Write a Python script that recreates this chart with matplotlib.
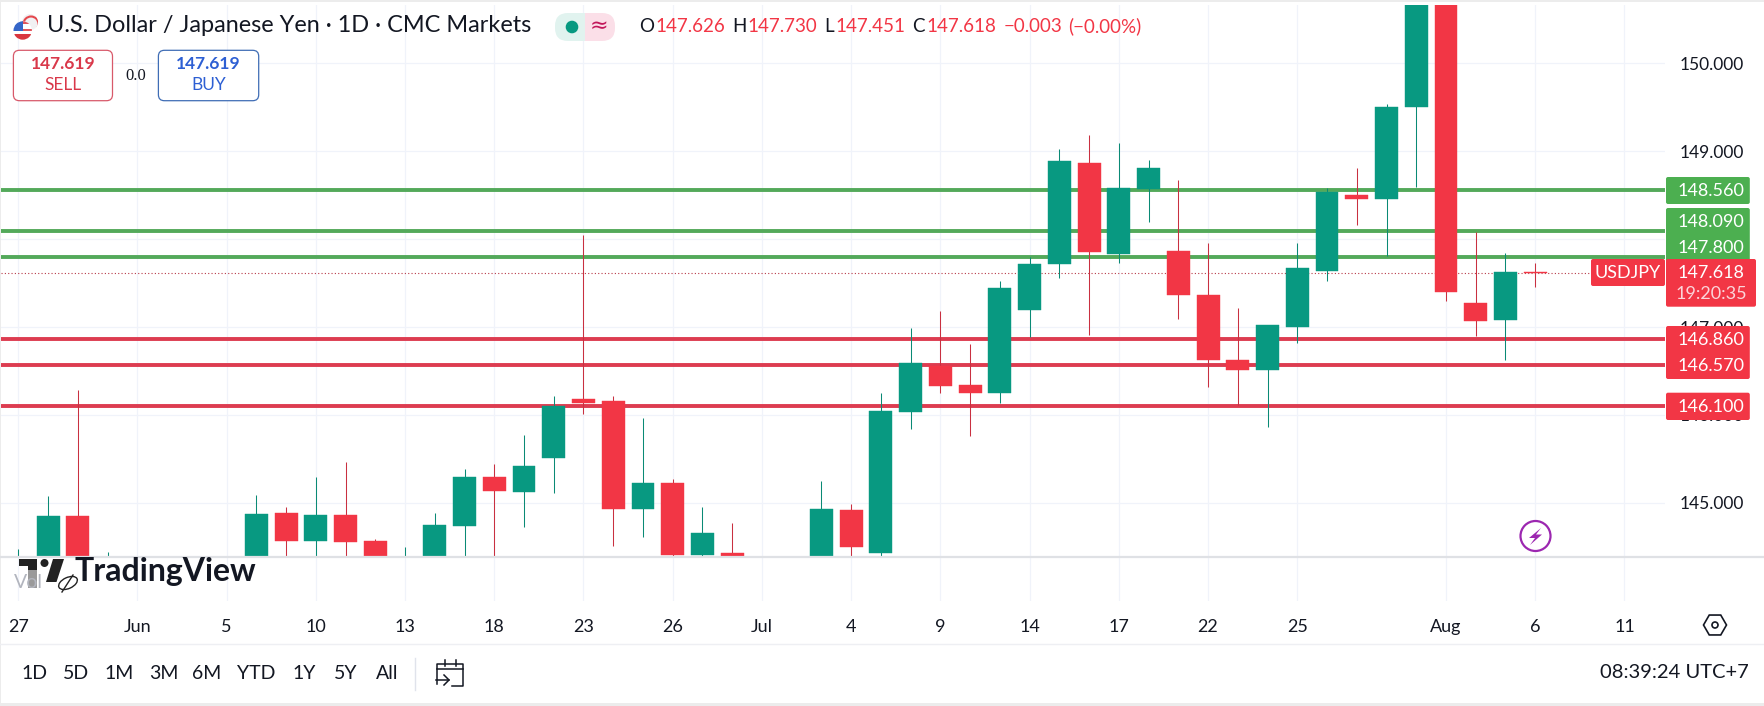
import matplotlib

matplotlib.use("Agg")
import matplotlib.pyplot as plt
from matplotlib.patches import Circle, Ellipse, FancyBboxPatch, Polygon, Rectangle, RegularPolygon

# candle slots on the time axis, slots 4-7 and 25-26 sit under the volume pane
candle_idx = [0, 1, 2, 3, 8, 9, 10, 11, 12, 13, 14, 15, 16, 17, 18, 19, 20, 21, 22, 23, 24, 27, 28, 29,
              30, 31, 32, 33, 34, 35, 36, 37, 38, 39, 40, 41, 42, 43, 44, 45, 46, 47, 48, 49, 50, 51]
opens = [144.10, 144.20, 144.850, 144.00, 144.20, 144.881, 144.569, 144.861, 144.565, 144.10, 144.30, 144.739,
         145.294, 145.126, 145.513, 146.178, 146.158, 144.929, 145.225, 144.406, 144.429, 144.38, 144.918, 144.429,
         146.036, 146.560, 146.337, 146.253, 147.193, 147.720, 148.866, 147.827, 148.570, 147.865, 147.364, 146.625,
         146.511, 147.004, 147.640, 148.502, 148.456, 149.506, 150.75, 147.273, 147.080, 147.626]
highs = [144.471, 145.077, 146.283, 144.440, 145.089, 144.956, 145.297, 145.468, 144.588, 144.494, 144.881, 145.385,
         145.445, 145.771, 146.219, 148.043, 146.215, 145.961, 145.271, 144.956, 144.774, 145.248, 144.986, 146.253,
         146.985, 147.182, 146.803, 147.523, 147.800, 149.025, 149.184, 149.093, 148.896, 148.672, 147.952, 147.220,
         147.023, 147.952, 148.578, 148.805, 149.537, 150.90, 150.90, 148.084, 147.838, 147.730]
lows = [144.00, 144.10, 144.05, 143.90, 144.10, 144.20, 144.20, 144.20, 144.20, 144.00, 144.20, 144.30,
        144.30, 144.728, 145.115, 146.010, 144.508, 144.614, 144.30, 144.395, 144.30, 144.30, 144.30, 144.395,
        145.836, 146.253, 145.760, 146.132, 146.890, 147.561, 146.909, 147.725, 148.191, 147.088, 146.321, 146.113,
        145.866, 146.821, 147.523, 148.160, 147.808, 148.596, 147.296, 146.898, 146.625, 147.451]
closes = [144.35, 144.850, 144.15, 144.30, 144.873, 144.569, 144.861, 144.557, 144.25, 144.30, 144.747, 145.294,
          145.134, 145.419, 146.105, 146.135, 144.929, 145.225, 144.406, 144.656, 144.395, 144.929, 144.497, 146.044,
          146.587, 146.332, 146.253, 147.444, 147.717, 148.889, 147.857, 148.578, 148.812, 147.364, 146.625, 146.511,
          147.023, 147.671, 148.539, 148.456, 149.503, 150.75, 147.402, 147.068, 147.626, 147.618]

resistance_levels = [148.56, 148.09, 147.80]
support_levels = [146.86, 146.57, 146.10]
last_price = 147.618
y_ticks = [150, 149, 148, 147, 146, 145]
x_tick_idx = [0, 4, 7, 10, 13, 16, 19, 22, 25, 28, 31, 34, 37, 40, 43, 48, 51, 54]
x_tick_labels = ["27", "Jun", "5", "10", "13", "18", "23", "26", "Jul", "4", "9", "14", "17", "22", "25", "Aug", "6", "11"]
range_buttons = ["1D", "5D", "1M", "3M", "6M", "YTD", "1Y", "5Y", "All"]
range_button_x = [34.4, 75.8, 119.4, 163.4, 207, 256, 304.2, 345.2, 387.3]

GREEN = "#089981"
RED = "#f23645"
LEVEL_GREEN = "#53a95a"
LEVEL_RED = "#dd3c50"
TAG_GREEN = "#4caf50"
INK = "#131722"
FONT = "Lato"
W, H = 1765, 706
X_LEFT, X_RIGHT = 1, 1665.5
Y_TOP, Y_PANE, Y_TIME = 5, 556.7, 601

plt.rcParams["font.family"] = FONT


def axes_px(fig, x0, y0, x1, y1):
    return fig.add_axes([x0 / W, 1 - y1 / H, (x1 - x0) / W, (y1 - y0) / H])


def draw_candles(ax):
    for i, o, h, l, c in zip(candle_idx, opens, highs, lows, closes):
        up = c >= o and i != 51
        body = GREEN if up else RED
        wick = "#0a8a75" if up else "#c93040"
        ax.vlines(i, l, h, color=wick, linewidth=0.75, zorder=3)
        ax.bar(i, abs(c - o), bottom=min(o, c), width=0.77, color=body, edgecolor=body, linewidth=0.3, zorder=4)


def tag(ui, x0, y0, x1, y1, color, radius=2):
    ui.add_patch(FancyBboxPatch((x0 + radius, y0 + radius), x1 - x0 - 2 * radius, y1 - y0 - 2 * radius,
                                boxstyle=f"round,pad={radius},rounding_size={radius}", fc=color, ec="none", zorder=5))


def label(ui, x, y, s, color=INK, size=13, ha="center", weight="normal", **kw):
    ui.text(x, y, s, color=color, fontsize=size, ha=ha, va="center", fontweight=weight, zorder=6, **kw)


def draw_flag(ui):
    back = Circle((30, 22), 8, fc="#f1f1f3", ec="none", zorder=4)
    ui.add_patch(back)
    dot = Circle((31, 24), 7.5, fc="none", ec="#e5484d", lw=1.5, zorder=4)
    ui.add_patch(dot)
    dot.set_clip_path(back)
    disc = Circle((22.7, 30.5), 9.2, fc="white", ec="none", zorder=5)
    ui.add_patch(disc)
    for y0, h, color, x0, w in [(34, 7, "#d9363e", 12, 22), (28.5, 2.5, "#e2565c", 22, 12),
                                (21, 2.5, "#e2565c", 22, 12), (21, 10, "#3566c8", 12, 11)]:
        stripe = Rectangle((x0, y0), w, h, fc=color, ec="none", zorder=5)
        ui.add_patch(stripe)
        stripe.set_clip_path(disc)


def draw_header(ui):
    draw_flag(ui)
    label(ui, 47.5, 26, "U.S. Dollar / Japanese Yen · 1D · CMC Markets", size=16.9, ha="left")

    # status pill
    tag(ui, 555, 13, 600, 41, "#e1f3ef", radius=13)
    tag(ui, 570, 13, 615, 41, "#fbdfe8", radius=13)
    ui.add_patch(Rectangle((570, 13), 15, 28, fc="#e1f3ef", ec="none", zorder=5))
    ui.add_patch(Circle((572, 27), 6.3, fc=GREEN, ec="none", zorder=6))
    label(ui, 599, 26, "≈", color="#c2185b", size=16, family="DejaVu Sans")

    # ohlc read-out
    parts = [(639.4, "O", INK), (655.5, "147.626", RED), (732, "H", INK), (747, "147.730", RED), (824, "L", INK),
             (835, "147.451", RED), (912, "C", INK), (926, "147.618", RED), (1003.7, "−0.003", RED),
             (1068, "(−0.00%)", RED)]
    for x, s, color in parts:
        label(ui, x, 26, s, color=color, size=13.5, ha="left")

    # sell / buy buttons
    for x0, x1, edge, color, word in [(13.4, 112.5, "#d8596a", "#d9384a", "SELL"), (158.4, 258.7, "#3f6db5", "#2d5fd3", "BUY")]:
        ui.add_patch(FancyBboxPatch((x0 + 6, 50.3 + 6), x1 - x0 - 12, 50.4 - 12, boxstyle="round,pad=6,rounding_size=6",
                                    fc="white", ec=edge, lw=0.9, zorder=5))
        label(ui, (x0 + x1) / 2, 64.3, "147.619", color=color, size=12.5, weight="bold")
        label(ui, (x0 + x1) / 2, 85, word, color=color, size=12.5)
    label(ui, 136, 75.7, "0.0", size=12, family="Liberation Serif")


def draw_price_tags(ui):
    tag(ui, 1666, 177, 1749.8, 204, TAG_GREEN)
    tag(ui, 1666, 208, 1749.8, 262, TAG_GREEN)
    tag(ui, 1666, 326, 1749.8, 379, RED)
    tag(ui, 1666, 392.7, 1749.8, 420, RED)
    for y, s in [(190.5, "148.560"), (221.7, "148.090"), (247.7, "147.800"), (339.7, "146.860"), (365.7, "146.570"), (406.7, "146.100")]:
        label(ui, 1711, y, s, color="white", size=13)
    tag(ui, 1591, 259, 1665, 286, RED)
    tag(ui, 1666, 259, 1756, 306.7, RED)
    label(ui, 1628, 272.7, "USDJPY", color="white", size=13)
    label(ui, 1711, 272.7, "147.618", color="white", size=13)
    label(ui, 1711, 294, "19:20:35", color="#fbd5da", size=13)


def draw_watermark(ui):
    ui.add_patch(Polygon([(19, 559), (37.5, 559), (37.5, 581), (28, 581), (28, 566), (19, 566)], fc="#222222", ec="none", zorder=5))
    ui.add_patch(Rectangle((28, 570), 9.5, 18, fc="#9a9a9a", ec="none", zorder=5))
    ui.add_patch(Circle((44.5, 563), 4, fc="#222222", ec="none", zorder=5))
    ui.add_patch(Polygon([(53, 559), (64, 559), (56.5, 582), (46, 582)], fc="#222222", ec="none", zorder=5))
    label(ui, 14, 582, "Vol", color="#b2b5be", size=14, ha="left")
    ui.add_patch(Ellipse((68, 583), 20, 11, angle=-25, fc="white", ec="#222222", lw=1, zorder=6))
    ui.plot([62, 73], [592, 575], color="#222222", lw=1, zorder=6)
    label(ui, 75, 572, "TradingView", color="#131722", size=23, ha="left", weight="bold")


def draw_footer(ui):
    for x, s in zip(range_button_x, range_buttons):
        label(ui, x, 673.3, s, size=14)
    ui.plot([415, 415], [658, 690], color="#e0e3eb", lw=1, zorder=5)
    # calendar icon
    ui.plot([437, 437, 463, 463, 452], [684, 664, 664, 686, 686], color=INK, lw=1.1, zorder=5)
    ui.plot([437, 463], [669, 669], color=INK, lw=1.1, zorder=5)
    ui.plot([445, 445], [660, 666], color=INK, lw=1.1, zorder=5)
    ui.plot([456, 456], [660, 666], color=INK, lw=1.1, zorder=5)
    ui.plot([436, 449], [680, 680], color=INK, lw=1.1, zorder=5)
    ui.plot([444, 449, 444], [675, 680, 685], color=INK, lw=1.1, zorder=5)
    label(ui, 1748.6, 673, "08:39:24 UTC+7", size=14.5, ha="right")
    # settings gear and replay bolt
    ui.add_patch(RegularPolygon((1715, 625), 6, radius=11.5, orientation=0.5236, fc="white", ec=INK, lw=1.2, zorder=5))
    ui.add_patch(Circle((1715, 625), 3, fc="white", ec=INK, lw=1.2, zorder=6))
    ui.add_patch(Circle((1535.5, 536), 15, fc="white", ec="#9c27b0", lw=1.6, zorder=5))
    ui.add_patch(Polygon([(1541, 528), (1529, 538), (1535, 538), (1530, 545), (1542, 534.5), (1536, 534.5)], fc="#9c27b0", ec="none", zorder=6))


def main():
    fig = plt.figure(figsize=(W / 100, H / 100), dpi=100, facecolor="white")

    ax = axes_px(fig, X_LEFT, Y_TOP, X_RIGHT, Y_PANE)
    ax.set_xlim(-0.585, 55.38)
    ax.set_ylim(144.387, 150.663)
    for spine in ax.spines.values():
        spine.set_visible(False)
    ax.grid(True, color="#f0f3fa", linewidth=0.9, zorder=0)
    ax.set_axisbelow(True)
    ax.yaxis.tick_right()
    ax.set_yticks(y_ticks, labels=[f"{v:.3f}" for v in y_ticks])
    ax.tick_params(axis="y", length=0, pad=10, labelsize=12.5, labelcolor=INK)
    ax.set_xticks(x_tick_idx, labels=[])
    ax.tick_params(axis="x", length=0)
    for level in resistance_levels:
        ax.axhline(level, color=LEVEL_GREEN, linewidth=2.8, zorder=1)
    for level in support_levels:
        ax.axhline(level, color=LEVEL_RED, linewidth=2.8, zorder=1)
    ax.axhline(last_price, color="#b83a48", linewidth=0.8, linestyle=(0, (1, 2)), zorder=1.5)
    draw_candles(ax)

    time_ax = axes_px(fig, X_LEFT, Y_PANE, X_RIGHT, Y_TIME)
    time_ax.set_xlim(ax.get_xlim())
    time_ax.set_yticks([])
    for spine in time_ax.spines.values():
        spine.set_visible(False)
    time_ax.set_xticks(x_tick_idx, labels=x_tick_labels)
    time_ax.grid(True, axis="x", color="#f0f3fa", linewidth=0.9)
    time_ax.tick_params(axis="x", length=0, pad=13, labelsize=13, labelcolor=INK)

    ui = fig.add_axes([0, 0, 1, 1], facecolor="none")
    ui.set_xlim(0, W)
    ui.set_ylim(H, 0)
    ui.axis("off")
    ui.add_patch(Rectangle((0, 0), W, 2, fc="#ececec", ec="none"))
    ui.add_patch(Rectangle((0, 703), W, 3, fc="#ececec", ec="none"))
    ui.add_patch(Rectangle((0, 0), 1, H, fc="#ececec", ec="none"))
    ui.plot([0, W], [Y_PANE, Y_PANE], color="#dfe1e5", lw=1.6, zorder=2)
    ui.plot([0, W], [644, 644], color="#eeeff3", lw=1, zorder=2)

    draw_header(ui)
    draw_price_tags(ui)
    draw_watermark(ui)
    draw_footer(ui)

    fig.savefig("out.png", dpi=100)
    plt.close(fig)


if __name__ == "__main__":
    main()
